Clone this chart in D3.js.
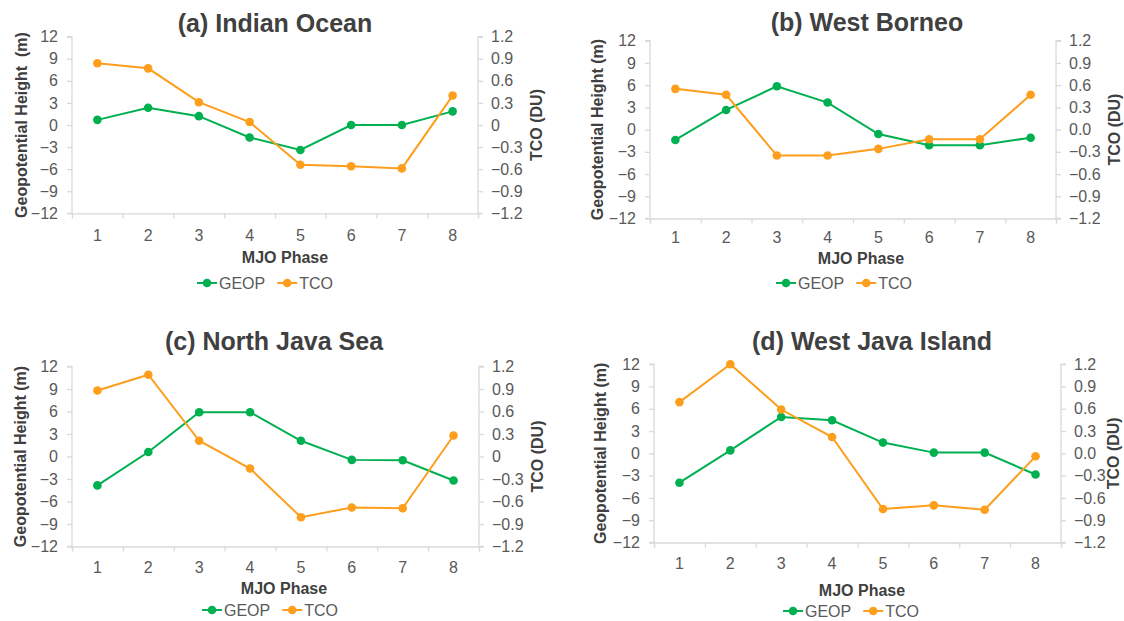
<!DOCTYPE html>
<html>
<head>
<meta charset="utf-8">
<script src="https://cdn.jsdelivr.net/npm/d3@7"></script>
<style>
  html, body { margin: 0; padding: 0; background: #ffffff; }
  svg { display: block; }
  text { font-family: Arial, "Liberation Sans", sans-serif; }
</style>
</head>
<body>
<svg id="chart" width="1124" height="621"></svg>
<script>
// ---------------- DATA ----------------
const phases = ["1", "2", "3", "4", "5", "6", "7", "8"];

const panelTitles = ["(a) Indian Ocean", "(b) West Borneo", "(c) North Java Sea", "(d) West Java Island"];
const leftAxisTitles = ["Geopotential Height\u00a0\u00a0(m)", "Geopotential Height (m)", "Geopotential Height (m)", "Geopotential Height (m)"];
const rightAxisTitle = "TCO (DU)";
const xAxisTitle = "MJO Phase";
const seriesNames = ["GEOP", "TCO"];

// GEOP (m), left axis
const geopIndianOcean   = [0.7, 2.35, 1.2, -1.7, -3.4, 0.0, 0.0, 1.85];
const geopWestBorneo    = [-1.4, 2.65, 5.85, 3.65, -0.6, -2.1, -2.1, -1.1];
const geopNorthJavaSea  = [-3.85, 0.6, 5.9, 5.9, 2.1, -0.45, -0.5, -3.2];
const geopWestJavaIsland= [-3.95, 0.4, 4.9, 4.45, 1.45, 0.1, 0.1, -2.85];

// TCO (DU), right axis
const tcoIndianOcean    = [0.84, 0.77, 0.31, 0.04, -0.54, -0.56, -0.59, 0.40];
const tcoWestBorneo     = [0.55, 0.47, -0.35, -0.35, -0.26, -0.13, -0.13, 0.47];
const tcoNorthJavaSea   = [0.88, 1.09, 0.21, -0.16, -0.81, -0.68, -0.69, 0.28];
const tcoWestJavaIsland = [0.69, 1.20, 0.59, 0.22, -0.75, -0.70, -0.76, -0.04];

const leftTicks = [12, 9, 6, 3, 0, -3, -6, -9, -12];
const rightTicks = [1.2, 0.9, 0.6, 0.3, 0, -0.3, -0.6, -0.9, -1.2];
const rightZeroLabels = ["0", "0.0", "0", "0.0"];

// ---------------- LAYOUT ----------------
const layout = [
  { left: 72,  right: 478,  top: 36.7,  bottom: 213.3, titleX: 275, titleY: 23,  catY: 235, mjoX: 285, mjoY: 257, legX: 197, legY: 283, yTitleX: 21,  y2TitleX: 536 },
  { left: 650, right: 1056, top: 40.7,  bottom: 218.5, titleX: 867, titleY: 22,  catY: 237, mjoX: 861, mjoY: 258, legX: 776, legY: 283, yTitleX: 597, y2TitleX: 1114 },
  { left: 72,  right: 479,  top: 366.5, bottom: 546.5, titleX: 274, titleY: 341, catY: 567, mjoX: 284, mjoY: 588, legX: 202, legY: 610, yTitleX: 20,  y2TitleX: 537 },
  { left: 654, right: 1061, top: 364.2, bottom: 542.5, titleX: 872, titleY: 341, catY: 563, mjoX: 862, mjoY: 590, legX: 783, legY: 611, yTitleX: 600, y2TitleX: 1113 }
];

const geopSeries = [geopIndianOcean, geopWestBorneo, geopNorthJavaSea, geopWestJavaIsland];
const tcoSeries = [tcoIndianOcean, tcoWestBorneo, tcoNorthJavaSea, tcoWestJavaIsland];

const GREEN = "#00b050";
const ORANGE = "#fd9e1c";
const AXIS = "#d9d9d9";
const TICKTXT = "#595959";
const TITLETXT = "#404040";

const svg = d3.select("#chart");

layout.forEach((L, i) => {
  const g = svg.append("g");

  const x = d3.scaleBand().domain(phases).range([L.left, L.right]);
  const yL = d3.scaleLinear().domain([-12, 12]).range([L.bottom, L.top]);
  const yR = d3.scaleLinear().domain([-1.2, 1.2]).range([L.bottom, L.top]);
  const cx = d => x(d) + x.bandwidth() / 2;

  // Left axis
  const leftAxis = d3.axisLeft(yL).tickValues(leftTicks).tickSize(5).tickPadding(9).tickFormat(d3.format("d"));
  const gl = g.append("g").attr("transform", `translate(${L.left},0)`).call(leftAxis);

  // Right axis
  const rightAxis = d3.axisRight(yR).tickValues(rightTicks).tickSize(5).tickPadding(8)
    .tickFormat(d => d === 0 ? rightZeroLabels[i] : d3.format(".1f")(d));
  const gr = g.append("g").attr("transform", `translate(${L.right},0)`).call(rightAxis);

  // Bottom axis: boundary ticks
  const boundaries = phases.map(p => x(p)).concat([L.right]);
  const bottomTicks = d3.axisBottom(d3.scaleLinear().domain([L.left, L.right]).range([L.left, L.right]))
    .tickValues(boundaries).tickSize(5).tickFormat("");
  const gb = g.append("g").attr("transform", `translate(0,${L.bottom})`).call(bottomTicks);

  // Bottom axis: category labels
  const catAxis = d3.axisBottom(x).tickSize(0).tickPadding(0);
  const gc = g.append("g").attr("transform", `translate(0,${L.catY})`).call(catAxis);
  gc.select(".domain").remove();
  gc.selectAll("text").attr("y", 0).attr("dy", "0.35em");

  [gl, gr, gb, gc].forEach(ax => {
    ax.selectAll(".domain").attr("stroke", AXIS).attr("stroke-width", 1.3);
    ax.selectAll(".tick line").attr("stroke", AXIS).attr("stroke-width", 1.3);
    ax.selectAll("text").attr("fill", TICKTXT).style("font-size", "16px")
      .style("font-family", "Arial, 'Liberation Sans', sans-serif");
  });
  gl.select(".domain").attr("d", `M-5,${L.bottom}H0V${L.top}H-5`);
  gr.select(".domain").attr("d", `M5,${L.bottom}H0V${L.top}H5`);

  // Title
  g.append("text").attr("x", L.titleX).attr("y", L.titleY).attr("dy", "0.35em")
    .attr("text-anchor", "middle").attr("fill", TITLETXT)
    .style("font-size", "25px").style("font-weight", "bold")
    .text(panelTitles[i]);

  // Axis titles
  const midY = (L.top + L.bottom) / 2;
  g.append("text").attr("transform", `translate(${L.yTitleX},${midY}) rotate(-90)`)
    .attr("dy", "0.35em").attr("text-anchor", "middle").attr("fill", TITLETXT)
    .style("font-size", "16px").style("font-weight", "bold").style("white-space", "pre")
    .text(leftAxisTitles[i]);
  g.append("text").attr("transform", `translate(${L.y2TitleX},${midY}) rotate(-90)`)
    .attr("dy", "0.35em").attr("text-anchor", "middle").attr("fill", TITLETXT)
    .style("font-size", "16px").style("font-weight", "bold")
    .text(rightAxisTitle);
  g.append("text").attr("x", L.mjoX).attr("y", L.mjoY).attr("dy", "0.35em")
    .attr("text-anchor", "middle").attr("fill", TITLETXT)
    .style("font-size", "16px").style("font-weight", "bold")
    .text(xAxisTitle);

  // Series
  const geop = phases.map((p, k) => ({ p, v: geopSeries[i][k] }));
  const tco = phases.map((p, k) => ({ p, v: tcoSeries[i][k] }));

  const lineL = d3.line().x(d => cx(d.p)).y(d => yL(d.v));
  const lineR = d3.line().x(d => cx(d.p)).y(d => yR(d.v));

  g.append("path").datum(geop).attr("d", lineL).attr("fill", "none")
    .attr("stroke", GREEN).attr("stroke-width", 2);
  g.append("path").datum(tco).attr("d", lineR).attr("fill", "none")
    .attr("stroke", ORANGE).attr("stroke-width", 2);

  g.selectAll(".mg").data(geop).enter().append("circle")
    .attr("cx", d => cx(d.p)).attr("cy", d => yL(d.v)).attr("r", 4.3).attr("fill", GREEN);
  g.selectAll(".mt").data(tco).enter().append("circle")
    .attr("cx", d => cx(d.p)).attr("cy", d => yR(d.v)).attr("r", 4.3).attr("fill", ORANGE);

  // Legend
  let lx = L.legX;
  [GREEN, ORANGE].forEach((col, k) => {
    g.append("line").attr("x1", lx).attr("x2", lx + 20).attr("y1", L.legY).attr("y2", L.legY)
      .attr("stroke", col).attr("stroke-width", 2);
    g.append("circle").attr("cx", lx + 10).attr("cy", L.legY).attr("r", 4.3).attr("fill", col);
    const t = g.append("text").attr("x", lx + 22).attr("y", L.legY).attr("dy", "0.35em")
      .attr("fill", TICKTXT).style("font-size", "16px").text(seriesNames[k]);
    lx = lx + 22 + t.node().getComputedTextLength() + 12;
  });
});
</script>
</body>
</html>
